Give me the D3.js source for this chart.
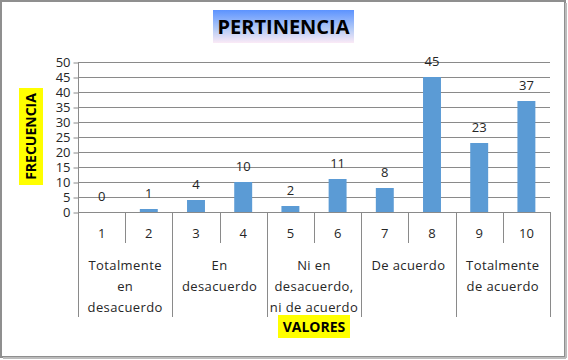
<!DOCTYPE html>
<html>
<head>
<meta charset="utf-8">
<script src="https://cdn.jsdelivr.net/npm/d3@7"></script>
<style>
body{margin:0;background:#fff;}
svg text{font-family:"Open Sans","Liberation Sans",sans-serif;fill:#262626;}
</style>
</head>
<body>
<div id="chart"></div>
<script>
// data
var categorias = ["1","2","3","4","5","6","7","8","9","10"];
var frecuencias = [0,1,4,10,2,11,8,45,23,37];
var grupos = [["Totalmente","en","desacuerdo"],["En","desacuerdo"],["Ni en","desacuerdo,","ni de acuerdo"],["De acuerdo"],["Totalmente","de acuerdo"]];
var yTicks = [0,5,10,15,20,25,30,35,40,45,50];

var W = 568, H = 360;
var plotL = 78, plotR = 550, plotT = 62, base = 212;

var svg = d3.select("#chart").append("svg")
  .attr("width",W).attr("height",H);

// frame
svg.append("rect").attr("x",1).attr("y",1).attr("width",W-4).attr("height",H-4)
  .attr("fill","#fff").attr("stroke","#8f8f8f").attr("stroke-width",2);
svg.append("line").attr("x1",3).attr("x2",W-2).attr("y1",H-2).attr("y2",H-2)
  .attr("stroke","#bcbcbc").attr("stroke-width",2);
svg.append("line").attr("x1",W-2).attr("x2",W-2).attr("y1",3).attr("y2",H-2)
  .attr("stroke","#bcbcbc").attr("stroke-width",2);

var x = d3.scaleBand().domain(categorias).range([plotL,plotR]).paddingInner(0.62).paddingOuter(0.31);
var xs = d3.scaleBand().domain(categorias).range([plotL,plotR]);
var y = d3.scaleLinear().domain([0,50]).range([base,plotT]);

// gridlines
svg.append("g").selectAll("line").data(yTicks).enter().append("line")
  .attr("x1",plotL).attr("x2",plotR)
  .attr("y1",function(d){return Math.round(y(d))+0.5;})
  .attr("y2",function(d){return Math.round(y(d))+0.5;})
  .attr("stroke","#8a8a8a").attr("stroke-width",1);

// y axis
var yAxis = svg.append("g").attr("transform","translate("+(plotL+0.5)+",0.5)")
  .call(d3.axisLeft(y).tickValues(yTicks).tickSize(5).tickPadding(3));
yAxis.select(".domain").attr("stroke","#8a8a8a").attr("d","M0,"+plotT+"V"+base);
yAxis.selectAll(".tick line").attr("stroke","#8a8a8a");
yAxis.selectAll("text").attr("font-size",13).attr("fill","#262626")
  .style("font-family","'Open Sans',sans-serif");

// bars
svg.append("g").selectAll("rect").data(frecuencias).enter().append("rect")
  .attr("x",function(d,i){return x(categorias[i]);})
  .attr("width",x.bandwidth())
  .attr("y",function(d){return y(d);})
  .attr("height",function(d){return base-y(d);})
  .attr("fill","#5b9bd5");

// value labels
svg.append("g").selectAll("text").data(frecuencias).enter().append("text")
  .attr("x",function(d,i){return xs(categorias[i])+xs.bandwidth()/2;})
  .attr("y",function(d){return y(d)-11;})
  .attr("text-anchor","middle").attr("font-size",13)
  .text(function(d){return d;});

// category axis: inner ticks
svg.append("g").selectAll("line").data(categorias).enter().append("line")
  .attr("x1",function(d){return Math.round(xs(d))+0.5;})
  .attr("x2",function(d){return Math.round(xs(d))+0.5;})
  .attr("y1",base).attr("y2",function(d,i){return i%2==0?317:243;})
  .attr("stroke","#8a8a8a");
svg.append("line").attr("x1",plotR+0.5).attr("x2",plotR+0.5).attr("y1",base).attr("y2",317)
  .attr("stroke","#8a8a8a");
svg.append("line").attr("x1",plotL).attr("x2",plotR).attr("y1",base+0.5).attr("y2",base+0.5)
  .attr("stroke","#8a8a8a");

svg.append("g").selectAll("text").data(categorias).enter().append("text")
  .attr("x",function(d){return xs(d)+xs.bandwidth()/2;})
  .attr("y",238).attr("text-anchor","middle").attr("font-size",13)
  .text(String);

// group labels
var gw = xs.bandwidth()*2;
grupos.forEach(function(g,i){
  var cx = plotL+gw*i+gw/2;
  svg.append("g").selectAll("text").data(g).enter().append("text")
    .attr("x",cx).attr("y",function(d,j){return 270+j*21;})
    .attr("text-anchor","middle").attr("font-size",13)
    .style("letter-spacing","0.4px")
    .text(String);
});

// title
var grad = svg.append("defs").append("linearGradient").attr("id","tg")
  .attr("x1",0).attr("x2",0).attr("y1",0).attr("y2",1);
grad.append("stop").attr("offset","0%").attr("stop-color","#5c93ff");
grad.append("stop").attr("offset","60%").attr("stop-color","#b8cdf6");
grad.append("stop").attr("offset","100%").attr("stop-color","#fbeaf6");
svg.append("rect").attr("x",213).attr("y",10).attr("width",141).attr("height",33).attr("fill","url(#tg)");
svg.append("text").attr("x",283.5).attr("y",34).attr("text-anchor","middle")
  .attr("font-size",20).attr("font-weight","bold").style("fill","#000")
  .text("PERTINENCIA");

// y title
svg.append("rect").attr("x",19).attr("y",88).attr("width",24).attr("height",97).attr("fill","#ffff00");
svg.append("text").attr("transform","translate(36,136.5) rotate(-90)")
  .attr("text-anchor","middle").attr("font-size",14).attr("font-weight","bold").style("fill","#000")
  .text("FRECUENCIA");

// x title
svg.append("rect").attr("x",278).attr("y",315).attr("width",72).attr("height",23).attr("fill","#ffff00");
svg.append("text").attr("x",314).attr("y",332).attr("text-anchor","middle")
  .attr("font-size",14).attr("font-weight","bold").style("fill","#000")
  .text("VALORES");
</script>
</body>
</html>
